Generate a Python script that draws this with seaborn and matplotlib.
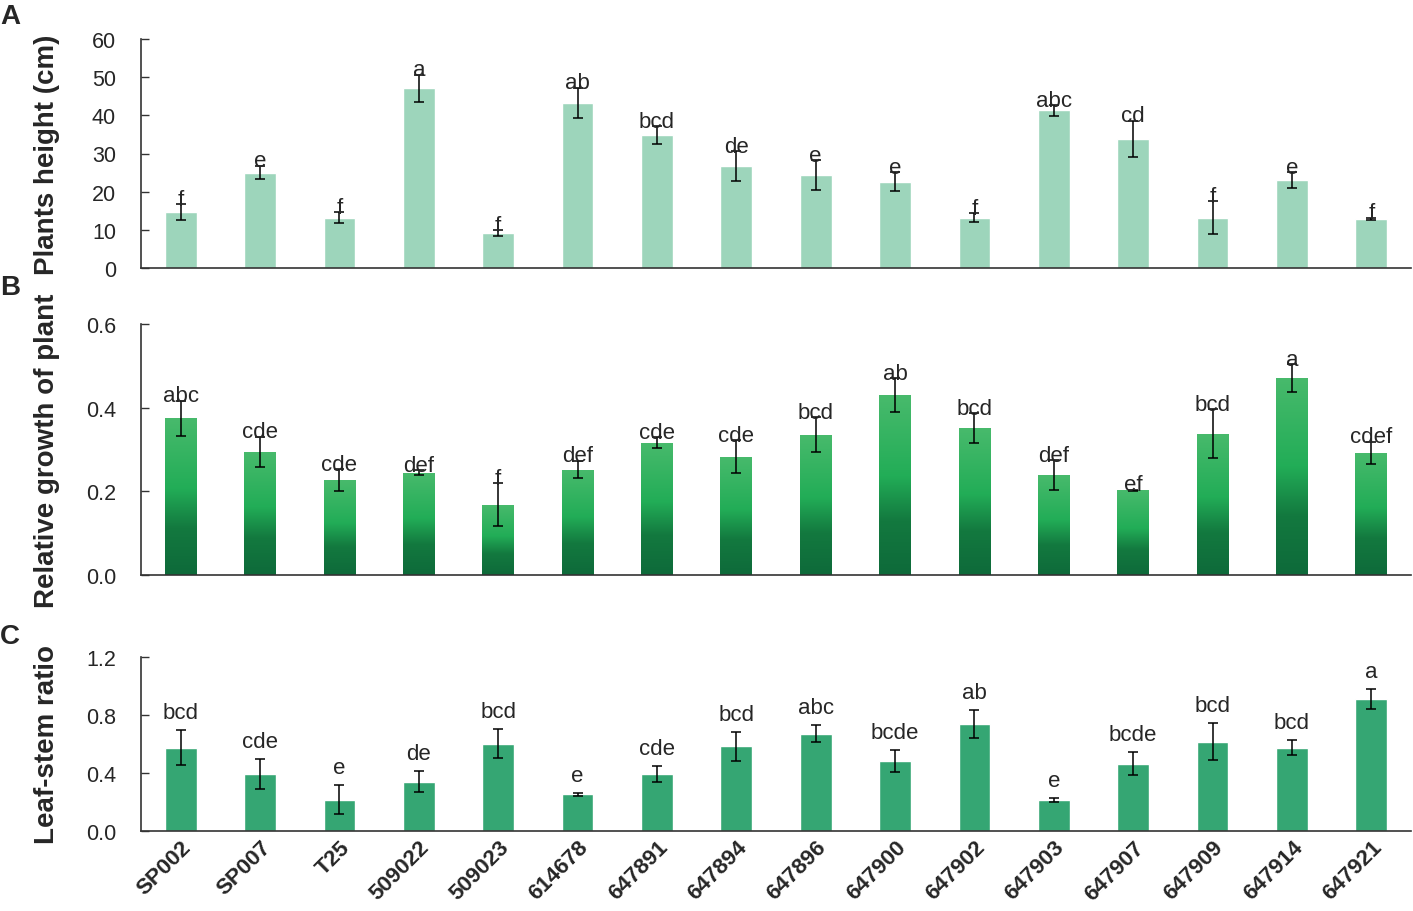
import matplotlib.pyplot as plt
import matplotlib.colors as mcolors
import numpy as np
import pandas as pd
import seaborn as sns

# Data
lines = ["SP002", "SP007", "T25", "509022", "509023", "614678", "647891", "647894",
         "647896", "647900", "647902", "647903", "647907", "647909", "647914", "647921"]

height_mean = [14.7, 25.0, 13.2, 47.1, 9.1, 43.3, 34.8, 26.7, 24.4, 22.6, 13.2, 41.3, 33.8, 13.2, 23.0, 12.8]
height_err = [2.0, 1.8, 1.4, 3.5, 0.8, 3.9, 2.3, 3.9, 3.9, 2.5, 1.2, 1.4, 4.8, 4.3, 2.1, 0.35]
height_sig = ["f", "e", "f", "a", "f", "ab", "bcd", "de", "e", "e", "f", "abc", "cd", "f", "e", "f"]

growth_mean = [0.375, 0.295, 0.227, 0.245, 0.168, 0.252, 0.316, 0.283, 0.335, 0.430, 0.351, 0.239, 0.202, 0.338, 0.471, 0.292]
growth_err = [0.042, 0.036, 0.026, 0.005, 0.051, 0.021, 0.013, 0.039, 0.042, 0.041, 0.036, 0.036, 0.002, 0.058, 0.033, 0.027]
growth_sig = ["abc", "cde", "cde", "def", "f", "def", "cde", "cde", "bcd", "ab", "bcd", "def", "ef", "bcd", "a", "cdef"]

ratio_mean = [0.574, 0.394, 0.216, 0.341, 0.601, 0.253, 0.394, 0.583, 0.672, 0.484, 0.735, 0.216, 0.465, 0.617, 0.574, 0.910]
ratio_err = [0.12, 0.105, 0.10, 0.07, 0.10, 0.01, 0.053, 0.10, 0.058, 0.078, 0.097, 0.014, 0.079, 0.125, 0.053, 0.071]
ratio_sig = ["bcd", "cde", "e", "de", "bcd", "e", "cde", "bcd", "abc", "bcde", "ab", "e", "bcde", "bcd", "bcd", "a"]

sns.set_style("white")
plt.rcParams['font.family'] = ['Liberation Sans', 'DejaVu Sans']

fig = plt.figure(figsize=(14.13, 9.12), dpi=100)
left, width = 141 / 1413, 1270 / 1413
ax_a = fig.add_axes([left, 1 - 269 / 912, width, 229 / 912])
ax_b = fig.add_axes([left, 1 - 576 / 912, width, 251 / 912])
ax_c = fig.add_axes([left, 1 - 832 / 912, width, 174 / 912])

grad = mcolors.LinearSegmentedColormap.from_list(
    "g", [(0, "#0e6a3a"), (0.3, "#13793f"), (0.55, "#22ad57"), (1, "#48ba6c")])


def panel(ax, mean, err, sig, color, ylim, yticks, ylabel, fmt, label_off):
    df = pd.DataFrame({"line": lines, "value": mean})
    sns.barplot(data=df, x="line", y="value", color=color, saturation=1, width=0.4,
                errorbar=None, ax=ax)
    ax.errorbar(np.arange(len(lines)), mean, yerr=err, fmt="none", ecolor="black",
                elinewidth=1.1, capsize=3.5, capthick=1.1)
    for i, (m, e, s) in enumerate(zip(mean, err, sig)):
        ax.annotate(s, (i, m + e), xytext=(0, label_off), textcoords="offset points",
                    ha="center", va="bottom", fontsize=16)
    ax.set_xlim(-0.5, len(lines) - 0.5)
    ax.set_ylim(*ylim)
    ax.set_yticks(yticks)
    ax.set_yticklabels([fmt.format(t) for t in yticks], fontsize=15.5)
    ax.set_ylabel(ylabel, fontsize=20, fontweight="bold")
    ax.set_xlabel("")
    ax.set_xticks(np.arange(-0.5, len(lines)), minor=True)
    ax.tick_params(axis="x", which="minor", direction="in", length=6, width=1, color="#333333")
    ax.tick_params(axis="x", which="major", length=0)
    ax.tick_params(axis="y", direction="in", length=6, width=1, color="#333333", left=True, pad=18)
    for sp in ["top", "right"]:
        ax.spines[sp].set_visible(False)
    for sp in ["left", "bottom"]:
        ax.spines[sp].set_color("#333333")
        ax.spines[sp].set_linewidth(1.2)
    return ax


panel(ax_a, height_mean, height_err, height_sig, "#9dd5bb", (0, 60), [0, 10, 20, 30, 40, 50, 60],
      "Plants height (cm)", "{:.0f}", -4)
panel(ax_b, growth_mean, growth_err, growth_sig, "#22b05a", (0, 0.6), [0.0, 0.2, 0.4, 0.6],
      "Relative growth of plant", "{:.1f}", -4)
panel(ax_c, ratio_mean, ratio_err, ratio_sig, "#35a673", (0, 1.2), [0.0, 0.4, 0.8, 1.2],
      "Leaf-stem ratio", "{:.1f}", 5)

# gradient fill for panel B bars
gvals = np.linspace(0, 1, 256).reshape(-1, 1)
for p in list(ax_b.patches):
    x0, y0 = p.get_x(), p.get_y()
    w, h = p.get_width(), p.get_height()
    im = ax_b.imshow(gvals, cmap=grad, origin="lower", aspect="auto",
                     extent=[x0, x0 + w, y0, y0 + h], zorder=p.get_zorder())
    im.set_clip_path(p)
    p.set_facecolor("none")
    p.set_edgecolor("none")
ax_b.set_xlim(-0.5, len(lines) - 0.5)
ax_b.set_ylim(0, 0.6)

ax_a.set_xticklabels([])
ax_b.set_xticklabels([])
ax_c.set_xticks(np.arange(len(lines)))
ax_c.set_xticklabels(lines, rotation=45, ha="right", rotation_mode="anchor",
                     fontsize=16, fontweight="bold")
ax_c.tick_params(axis="x", which="major", pad=4)

for ax in [ax_a, ax_b, ax_c]:
    ax.yaxis.set_label_coords(-0.064, 0.5)

fig.text(0.0, 1 - 17 / 912, "A", fontsize=20, fontweight="bold", va="center")
fig.text(0.0, 1 - 288 / 912, "B", fontsize=20, fontweight="bold", va="center")
fig.text(0.0, 1 - 637 / 912, "C", fontsize=20, fontweight="bold", va="center")

fig.savefig("out.png", dpi=100)
